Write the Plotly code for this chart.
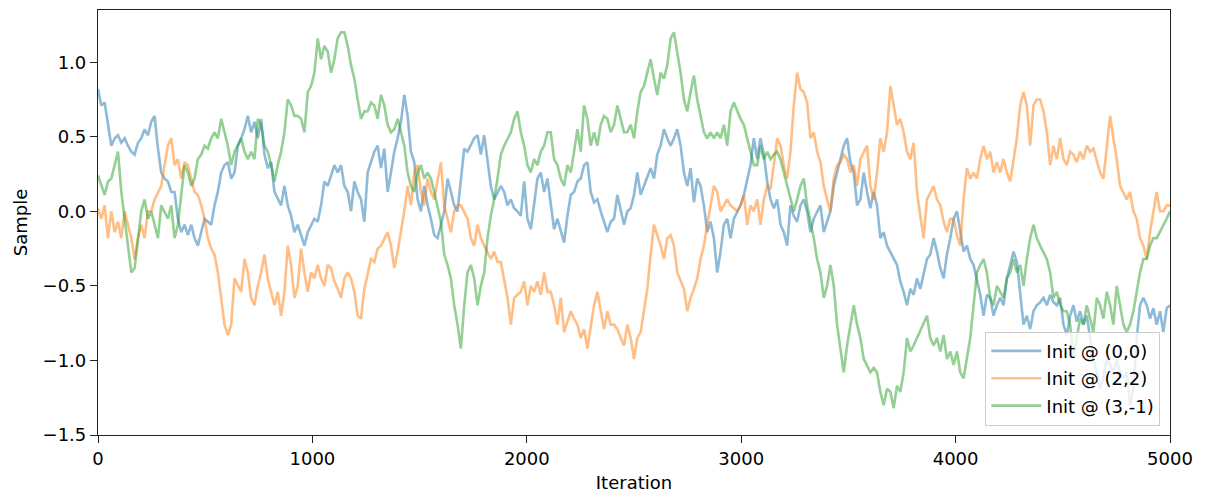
import numpy as np
import plotly.graph_objects as go

# MCMC trace samples (323 readings per chain, evenly spaced over iterations 0..5000)
chain_00 = [
    0.82, 0.71, 0.73, 0.58, 0.44, 0.49, 0.51, 0.46, 0.49, 0.44, 0.40, 0.38, 0.46, 0.49, 0.55, 0.51, 0.60, 0.64, 0.42, 0.26,
    0.22, 0.20, 0.13, 0.13, -0.05, -0.14, -0.09, -0.16, -0.09, -0.18, -0.23, -0.14, -0.05, -0.07, -0.09, 0.04, 0.13, 0.26, 0.31, 0.33,
    0.22, 0.26, 0.44, 0.49, 0.55, 0.64, 0.53, 0.60, 0.49, 0.62, 0.38, 0.29, 0.33, 0.13, 0.08, 0.04, 0.17, 0.04, -0.03, -0.14,
    -0.09, -0.16, -0.23, -0.14, -0.09, -0.05, -0.07, 0.04, 0.20, 0.17, 0.24, 0.31, 0.26, 0.31, 0.17, 0.13, 0.00, 0.20, 0.13, 0.08, -0.07,
    0.26, 0.33, 0.40, 0.44, 0.29, 0.42, 0.13, 0.26, 0.40, 0.49, 0.60, 0.78, 0.64, 0.40, 0.33, 0.08, 0.00, 0.17, 0.04, -0.05,
    -0.16, -0.18, -0.09, 0.00, 0.22, 0.13, 0.04, 0.00, 0.22, 0.42, 0.40, 0.44, 0.49, 0.51, 0.38, 0.51, 0.33, 0.17, 0.08, 0.13,
    0.17, 0.13, 0.04, 0.08, 0.02, 0.00, -0.03, 0.20, -0.05, -0.12, 0.04, 0.22, 0.26, 0.13, 0.22, 0.04, -0.12, -0.05, -0.14, -0.21,
    -0.03, 0.11, 0.13, 0.20, 0.22, 0.31, 0.33, 0.13, 0.06, 0.08, 0.00, -0.07, -0.14, -0.07, -0.05, 0.11, 0.00, -0.09, 0.00, 0.02, 0.11,
    0.26, 0.11, 0.17, 0.22, 0.29, 0.22, 0.38, 0.44, 0.55, 0.49, 0.44, 0.49, 0.55, 0.44, 0.26, 0.17, 0.29, 0.06, 0.22, 0.17,
    0.04, -0.14, -0.07, -0.18, -0.41, -0.27, -0.09, -0.05, -0.18, -0.05, 0.00, 0.04, 0.11, 0.22, 0.31, 0.49, 0.35, 0.49, 0.38, 0.20,
    0.08, 0.02, 0.08, -0.09, -0.14, -0.23, 0.04, -0.03, -0.07, 0.04, 0.08, 0.00, -0.14, -0.05, 0.00, 0.04, -0.14, -0.07, 0.00, 0.17,
    0.26, 0.33, 0.44, 0.49, 0.33, 0.26, 0.04, 0.08, 0.26, 0.13, 0.02, 0.13, 0.04, -0.18, -0.14, -0.23, -0.27, -0.32, -0.36, -0.47, -0.54,
    -0.63, -0.52, -0.56, -0.45, -0.52, -0.41, -0.32, -0.29, -0.18, -0.27, -0.38, -0.45, -0.29, -0.18, -0.05, 0.00, -0.14, -0.27, -0.23, -0.32,
    -0.36, -0.45, -0.56, -0.70, -0.56, -0.58, -0.70, -0.63, -0.58, -0.63, -0.45, -0.36, -0.27, -0.34, -0.54, -0.76, -0.70, -0.79, -0.67, -0.63,
    -0.61, -0.58, -0.63, -0.56, -0.61, -0.63, -0.58, -0.76, -0.83, -0.70, -0.63, -0.74, -0.67, -0.76, -0.70, -0.85, -0.99, -1.08, -1.19, -1.12,
    -0.99, -1.03, -1.08, -0.99, -1.08, -1.12, -1.08, -1.30, -1.19, -0.85, -0.63, -0.58, -0.63, -0.72, -0.65, -0.76, -0.67, -0.81, -0.65, -0.63,
]

chain_22 = [
    0.02, -0.05, 0.04, -0.18, 0.00, -0.14, -0.07, -0.18, 0.00, -0.09, -0.18, -0.32, -0.18, -0.09, -0.18, 0.00, 0.00, 0.08, 0.13, 0.17,
    0.31, 0.44, 0.49, 0.31, 0.35, 0.22, 0.33, 0.31, 0.22, 0.13, 0.11, 0.04, -0.05, -0.18, -0.25, -0.29, -0.41, -0.58, -0.76, -0.83,
    -0.76, -0.45, -0.50, -0.54, -0.32, -0.41, -0.58, -0.63, -0.50, -0.41, -0.29, -0.45, -0.54, -0.63, -0.54, -0.70, -0.54, -0.23, -0.36, -0.58,
    -0.50, -0.25, -0.41, -0.54, -0.41, -0.45, -0.36, -0.45, -0.50, -0.36, -0.38, -0.47, -0.52, -0.58, -0.45, -0.41, -0.45, -0.54, -0.70, -0.72, -0.52,
    -0.41, -0.32, -0.34, -0.25, -0.23, -0.18, -0.14, -0.23, -0.38, -0.27, -0.14, 0.00, 0.17, 0.04, 0.26, 0.31, 0.13, 0.04, 0.22, 0.13,
    0.08, 0.22, 0.33, 0.04, -0.05, -0.14, 0.00, 0.04, 0.04, 0.00, -0.05, -0.18, -0.23, -0.09, -0.18, -0.23, -0.27, -0.32, -0.27, -0.34,
    -0.34, -0.45, -0.58, -0.76, -0.58, -0.56, -0.54, -0.47, -0.63, -0.50, -0.54, -0.47, -0.56, -0.41, -0.54, -0.54, -0.63, -0.76, -0.58, -0.81,
    -0.74, -0.67, -0.72, -0.76, -0.85, -0.79, -0.92, -0.76, -0.63, -0.54, -0.67, -0.79, -0.67, -0.76, -0.76, -0.79, -0.85, -0.90, -0.76, -0.85, -0.99,
    -0.85, -0.81, -0.67, -0.52, -0.29, -0.09, -0.16, -0.23, -0.32, -0.18, -0.16, -0.23, -0.41, -0.47, -0.52, -0.67, -0.58, -0.52, -0.45, -0.32,
    -0.23, -0.09, 0.04, 0.17, 0.13, 0.00, 0.04, 0.08, 0.04, 0.02, 0.00, 0.04, 0.11, -0.09, 0.04, 0.00, 0.08, -0.09, 0.08, 0.17,
    0.15, 0.31, 0.49, 0.44, 0.31, 0.22, 0.40, 0.71, 0.93, 0.82, 0.80, 0.73, 0.49, 0.53, 0.40, 0.33, 0.17, 0.08, 0.00, 0.22,
    0.31, 0.33, 0.38, 0.35, 0.26, 0.31, 0.17, 0.35, 0.40, 0.44, 0.17, 0.08, 0.26, 0.49, 0.40, 0.53, 0.84, 0.71, 0.58, 0.62, 0.53,
    0.40, 0.35, 0.46, 0.13, -0.03, -0.18, 0.08, 0.13, 0.17, 0.08, 0.04, -0.07, -0.14, -0.05, -0.05, -0.16, -0.23, 0.08, 0.29, 0.22,
    0.26, 0.22, 0.35, 0.44, 0.35, 0.40, 0.26, 0.33, 0.26, 0.35, 0.26, 0.20, 0.35, 0.49, 0.71, 0.80, 0.71, 0.44, 0.71, 0.75,
    0.75, 0.67, 0.53, 0.31, 0.44, 0.35, 0.49, 0.35, 0.31, 0.40, 0.38, 0.33, 0.40, 0.35, 0.44, 0.40, 0.42, 0.33, 0.26, 0.22,
    0.44, 0.64, 0.49, 0.35, 0.17, 0.13, 0.08, 0.13, 0.00, -0.05, -0.18, -0.23, -0.32, -0.14, 0.00, 0.13, 0.00, 0.00, 0.04, 0.04,
]

chain_31 = [
    0.24, 0.17, 0.11, 0.20, 0.22, 0.31, 0.40, 0.13, -0.05, -0.23, -0.41, -0.38, -0.18, 0.00, 0.08, -0.05, 0.00, -0.09, -0.18, 0.04,
    0.00, -0.05, 0.04, -0.18, -0.09, 0.13, 0.31, 0.26, 0.17, 0.22, 0.35, 0.38, 0.44, 0.42, 0.49, 0.53, 0.49, 0.62, 0.53, 0.44,
    0.31, 0.40, 0.44, 0.49, 0.40, 0.35, 0.40, 0.35, 0.62, 0.58, 0.44, 0.40, 0.31, 0.20, 0.31, 0.40, 0.53, 0.75, 0.71, 0.64,
    0.64, 0.62, 0.53, 0.80, 0.84, 0.93, 1.16, 1.02, 1.11, 1.07, 0.93, 1.02, 1.16, 1.20, 1.20, 1.11, 0.98, 0.89, 0.75, 0.62, 0.67,
    0.67, 0.73, 0.71, 0.62, 0.78, 0.71, 0.58, 0.53, 0.55, 0.62, 0.53, 0.44, 0.26, 0.17, 0.13, 0.26, 0.31, 0.22, 0.26, 0.22,
    0.13, 0.04, -0.07, -0.29, -0.36, -0.45, -0.63, -0.76, -0.92, -0.63, -0.41, -0.36, -0.45, -0.63, -0.50, -0.41, -0.18, -0.03, 0.08, 0.22,
    0.38, 0.44, 0.49, 0.53, 0.62, 0.67, 0.53, 0.44, 0.31, 0.26, 0.35, 0.31, 0.40, 0.44, 0.53, 0.53, 0.35, 0.31, 0.22, 0.17,
    0.31, 0.26, 0.40, 0.55, 0.40, 0.71, 0.62, 0.44, 0.53, 0.44, 0.58, 0.64, 0.62, 0.53, 0.58, 0.71, 0.62, 0.53, 0.53, 0.58, 0.49,
    0.67, 0.80, 0.84, 0.93, 1.02, 0.89, 0.78, 0.93, 0.89, 0.98, 1.16, 1.20, 1.07, 0.93, 0.75, 0.67, 0.80, 0.91, 0.75, 0.64,
    0.53, 0.49, 0.53, 0.49, 0.53, 0.49, 0.58, 0.44, 0.67, 0.73, 0.67, 0.62, 0.58, 0.49, 0.40, 0.31, 0.31, 0.44, 0.35, 0.40,
    0.35, 0.38, 0.40, 0.35, 0.26, 0.17, 0.08, 0.00, 0.08, 0.17, 0.22, 0.04, -0.07, -0.18, -0.32, -0.41, -0.58, -0.50, -0.36, -0.50,
    -0.76, -0.94, -1.08, -0.90, -0.76, -0.63, -0.76, -0.85, -0.99, -1.03, -1.08, -1.05, -1.08, -1.21, -1.30, -1.19, -1.21, -1.32, -1.17, -1.21, -1.08,
    -0.85, -0.94, -0.90, -0.85, -0.81, -0.76, -0.70, -0.85, -0.90, -0.85, -0.94, -0.83, -0.99, -0.94, -1.03, -0.94, -1.08, -1.12, -0.99, -0.85,
    -0.63, -0.41, -0.36, -0.32, -0.41, -0.58, -0.63, -0.50, -0.54, -0.58, -0.45, -0.41, -0.32, -0.41, -0.36, -0.50, -0.32, -0.18, -0.09, -0.18,
    -0.23, -0.27, -0.32, -0.41, -0.58, -0.54, -0.63, -0.67, -0.67, -0.76, -0.99, -0.85, -0.72, -0.76, -0.63, -0.72, -0.81, -0.58, -0.63, -0.72,
    -0.54, -0.63, -0.76, -0.50, -0.63, -0.76, -0.81, -0.76, -0.67, -0.54, -0.41, -0.32, -0.32, -0.23, -0.18, -0.18, -0.14, -0.09, -0.05, 0.00,
]

series_names = ["Init @ (0,0)", "Init @ (2,2)", "Init @ (3,-1)"]
series_values = [chain_00, chain_22, chain_31]
series_colors = ["#1f77b4", "#ff7f0e", "#2ca02c"]

x_ticks = [0, 1000, 2000, 3000, 4000, 5000]
y_ticks = [-1.5, -1.0, -0.5, 0.0, 0.5, 1.0]
y_tick_labels = ["\u22121.5", "\u22121.0", "\u22120.5", "0.0", "0.5", "1.0"]

iterations = np.linspace(0, 5000, len(chain_00))

fig = go.Figure()
for i, (name, vals, col) in enumerate(zip(series_names, series_values, series_colors)):
    fig.add_trace(go.Scatter(
        x=iterations, y=vals, mode="lines", name=name, legendgroup=f"g{i}",
        line=dict(color=col, width=2.6), opacity=0.5,
    ))

font_family = "DejaVu Sans, Liberation Sans, sans-serif"
# the page body adds an 8px offset, so the figure is 8px smaller and margins shifted
fig.update_layout(
    width=1197, height=492,
    margin=dict(l=90, r=35, t=2, b=65),
    paper_bgcolor="white", plot_bgcolor="white",
    font=dict(family=font_family, size=18, color="black"),
    showlegend=True,
    legend=dict(
        x=0.991, y=0.022, xanchor="right", yanchor="bottom",
        bgcolor="rgba(255,255,255,0.8)", bordercolor="#cccccc", borderwidth=1,
        font=dict(family=font_family, size=18, color="black"),
        itemwidth=50, tracegroupgap=1,
    ),
)
fig.update_xaxes(
    range=[0, 5000], tickvals=x_ticks, ticks="outside", ticklen=7, tickwidth=1.2,
    tickcolor="#222", showline=True, linecolor="#222", linewidth=1.2, mirror=True,
    showgrid=False, zeroline=False,
    title=dict(text="Iteration", standoff=8, font=dict(size=18)),
)
fig.update_yaxes(
    range=[-1.5, 1.35], tickvals=y_ticks, ticktext=y_tick_labels, ticks="outside",
    ticklen=7, tickwidth=1.2, tickcolor="#222", showline=True, linecolor="#222",
    linewidth=1.2, mirror=True, showgrid=False, zeroline=False,
    title=dict(text="Sample", standoff=10, font=dict(size=18)),
)

fig.write_html("out.html")
